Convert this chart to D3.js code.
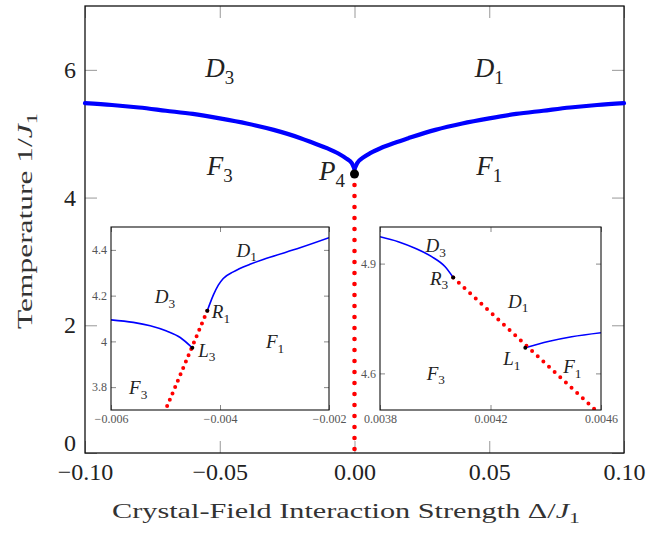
<!DOCTYPE html>
<html>
<head>
<meta charset="utf-8">
<script src="https://cdn.jsdelivr.net/npm/d3@7"></script>
<style>
  body { margin: 0; background: #fff; }
  svg { display: block; font-family: "Liberation Serif", "DejaVu Serif", serif; }
</style>
</head>
<body>
<svg id="chart" width="670" height="533"></svg>
<script>
// main phase boundary (thick blue), two branches meeting at the cusp
const leftDelta  = [-0.10, -0.09, -0.08, -0.07, -0.06, -0.05, -0.04, -0.03, -0.02, -0.015, -0.01, -0.006, -0.003, -0.001, 0];
const leftTemp   = [5.48, 5.45, 5.41, 5.36, 5.31, 5.24, 5.16, 5.06, 4.93, 4.85, 4.77, 4.69, 4.61, 4.54, 4.45];
const rightDelta = [0, 0.001, 0.003, 0.006, 0.01, 0.015, 0.02, 0.03, 0.04, 0.05, 0.06, 0.07, 0.08, 0.09, 0.10];
const rightTemp  = [4.45, 4.54, 4.62, 4.70, 4.78, 4.86, 4.93, 5.06, 5.16, 5.24, 5.31, 5.36, 5.41, 5.45, 5.48];
// first-order line (red dots) from P4 down to T = 0
const p4 = [0, 4.37];
const mainRedDelta = [0, 0];
const mainRedTemp  = [4.37, 0];

const mainTicksX = [-0.10, -0.05, 0.00, 0.05, 0.10];
const mainTicksY = [0, 2, 4, 6];

// left inset
const inLBlueADelta = [-0.006, -0.00559, -0.00528, -0.00498, -0.00473, -0.00451];
const inLBlueATemp  = [4.094, 4.083, 4.068, 4.045, 4.017, 3.972];
const inLBlueBDelta = [-0.004233, -0.004183, -0.004123, -0.004031, -0.00394, -0.003756, -0.00345, -0.003143, -0.002532, -0.002];
const inLBlueBTemp  = [4.134, 4.166, 4.202, 4.246, 4.275, 4.304, 4.337, 4.363, 4.409, 4.453];
const inLRedDelta = [-0.004233, -0.005];
const inLRedTemp  = [4.134, 3.70];
const inLPoints = [[-0.004508, 3.972], [-0.004233, 4.134]];
const inLTicksX = [-0.006, -0.004, -0.002];
const inLTicksY = [3.8, 4.0, 4.2, 4.4];

// right inset
const inRBlueADelta = [0.0038, 0.003866, 0.003927, 0.003987, 0.004035, 0.004065];
const inRBlueATemp  = [4.9735, 4.960, 4.942, 4.919, 4.892, 4.862];
const inRBlueBDelta = [0.004326, 0.004409, 0.004494, 0.0046];
const inRBlueBTemp  = [4.670, 4.687, 4.700, 4.711];
const inRRedDelta = [0.004065, 0.00458];
const inRRedTemp  = [4.862, 4.50];
const inRPoints = [[0.004065, 4.862], [0.004326, 4.670]];
const inRTicksX = [0.0038, 0.0042, 0.0046];
const inRTicksY = [4.6, 4.9];

// phase labels: [letter, subscript, delta, temperature]
const mainLabels = [["D", "3", -0.05, 6.03], ["D", "1", 0.05, 6.03], ["F", "3", -0.05, 4.50], ["F", "1", 0.05, 4.50]];
const p4Label = ["P", "4", -0.0035, 4.42];
const inLLabels = [["D", "1", -0.00351, 4.40], ["D", "3", -0.00501, 4.196], ["F", "1", -0.00299, 4.0], ["F", "3", -0.0055, 3.797]];
const inLSide   = [["R", "1", -0.00415, 4.13], ["L", "3", -0.0044, 3.962]];
const inRLabels = [["D", "3", 0.004002, 4.949], ["R", "3", 0.004014, 4.861], ["D", "1", 0.0043, 4.798],
                   ["L", "1", 0.004277, 4.641], ["F", "1", 0.004496, 4.618], ["F", "3", 0.004002, 4.601]];

const svg = d3.select("#chart");
const zip = (a, b) => a.map((v, i) => [v, b[i]]);

const x = d3.scaleLinear().domain([-0.1, 0.1]).range([85, 624]);
const y = d3.scaleLinear().domain([0, 7]).range([453, 6]);

function mathLabel(g, d, sx, sy, size, anchor) {
    const t = g.append("text")
        .attr("x", sx(d[2])).attr("y", sy(d[3]))
        .attr("dy", "0.35em")
        .attr("text-anchor", anchor)
        .attr("font-size", size)
        .attr("fill", "#222");
    t.append("tspan").attr("font-style", "italic").text(d[0]);
    t.append("tspan").attr("font-size", size * 0.7).attr("dy", size * 0.25).text(d[1]);
}

function styleTicks(g, color) {
    g.select(".domain").remove();
    g.selectAll(".tick line").attr("stroke", color).attr("stroke-width", 1);
}

// main axes, inward ticks on all sides
const gx = svg.append("g").attr("transform", "translate(0,453)")
    .call(d3.axisBottom(x).tickValues(mainTicksX).tickSize(-12).tickSizeOuter(0).tickPadding(10).tickFormat(d3.format(".2f")));
styleTicks(gx, "#999");
gx.selectAll("text").attr("font-size", 24).attr("fill", "#222").attr("font-family", "Liberation Serif");

const gy = svg.append("g").attr("transform", "translate(85,0)")
    .call(d3.axisLeft(y).tickValues(mainTicksY).tickSize(-12).tickSizeOuter(0).tickPadding(9).tickFormat(d3.format("d")));
styleTicks(gy, "#999");
gy.selectAll("text").attr("font-size", 24).attr("fill", "#222").attr("font-family", "Liberation Serif");
gy.selectAll(".tick").filter(d => d === 0).select("text").attr("dy", "-0.1em");

const gt = svg.append("g").attr("transform", "translate(0,6)")
    .call(d3.axisTop(x).tickValues(mainTicksX).tickSize(-12).tickSizeOuter(0).tickFormat(""));
styleTicks(gt, "#999");
const gr = svg.append("g").attr("transform", "translate(624,0)")
    .call(d3.axisRight(y).tickValues(mainTicksY).tickSize(-12).tickSizeOuter(0).tickFormat(""));
styleTicks(gr, "#999");

svg.append("rect").attr("x", 85).attr("y", 6).attr("width", 539).attr("height", 447)
    .attr("fill", "none").attr("stroke", "#111").attr("stroke-width", 1.3);

// axis titles, stretched to the width of the original's Computer Modern
function title(str, tf, width) {
    const t = svg.append("text").attr("text-anchor", "middle").attr("font-size", 21).attr("fill", "#333");
    t.append("tspan").text(str);
    t.append("tspan").attr("font-style", "italic").text("J");
    t.append("tspan").attr("font-size", 15).attr("dy", 5).text("1");
    const k = width / t.node().getComputedTextLength();
    t.attr("transform", `${tf} scale(${k},1)`);
}
title("Crystal-Field Interaction Strength \u0394/", "translate(346,518)", 468);
title("Temperature 1/", "translate(32,221) rotate(-90)", 216);

// main curves
const mainLine = d3.line().x(d => x(d[0])).y(d => y(d[1])).curve(d3.curveMonotoneX);
[zip(leftDelta, leftTemp), zip(rightDelta, rightTemp)].forEach(b => {
    svg.append("path").attr("d", mainLine(b)).attr("fill", "none")
        .attr("stroke", "#0000ff").attr("stroke-width", 4.2).attr("stroke-linecap", "round");
});
svg.append("path").attr("d", d3.line().x(d => x(d[0])).y(d => y(d[1]))(zip(mainRedDelta, mainRedTemp)))
    .attr("fill", "none").attr("stroke", "#ff0000").attr("stroke-width", 4.6)
    .attr("stroke-linecap", "round").attr("stroke-dasharray", "0 11");
svg.append("circle").attr("cx", x(p4[0])).attr("cy", y(p4[1])).attr("r", 4.5).attr("fill", "#000");

mainLabels.forEach(d => mathLabel(svg, d, x, y, 27, "middle"));
mathLabel(svg, p4Label, x, y, 27, "end");

// insets
function inset(box, xd, yd, xTicks, yTicks, blues, red, dash, pts, labels, side, id) {
    const ix = d3.scaleLinear().domain(xd).range([box[0], box[2]]);
    const iy = d3.scaleLinear().domain(yd).range([box[3], box[1]]);
    const w = box[2] - box[0], h = box[3] - box[1];
    const g = svg.append("g");
    g.append("rect").attr("x", box[0]).attr("y", box[1]).attr("width", w).attr("height", h).attr("fill", "#fff");
    g.append("clipPath").attr("id", id).append("rect")
        .attr("x", box[0]).attr("y", box[1]).attr("width", w).attr("height", h);

    const fmt = d3.format("~g");
    const ax = [
        [d3.axisBottom(ix).tickValues(xTicks).tickFormat(fmt), `translate(0,${box[3]})`],
        [d3.axisLeft(iy).tickValues(yTicks).tickFormat(fmt), `translate(${box[0]},0)`],
        [d3.axisTop(ix).tickValues(xTicks).tickFormat(""), `translate(0,${box[1]})`],
        [d3.axisRight(iy).tickValues(yTicks).tickFormat(""), `translate(${box[2]},0)`]
    ];
    ax.forEach(a => {
        const ga = g.append("g").attr("transform", a[1]).call(a[0].tickSize(-5).tickSizeOuter(0).tickPadding(4));
        styleTicks(ga, "#888");
        ga.selectAll("text").attr("font-size", 12).attr("fill", "#555").attr("font-family", "Liberation Serif");
    });

    const plot = g.append("g").attr("clip-path", `url(#${id})`);
    const ln = d3.line().x(d => ix(d[0])).y(d => iy(d[1])).curve(d3.curveMonotoneX);
    blues.forEach(b => plot.append("path").attr("d", ln(b)).attr("fill", "none")
        .attr("stroke", "#0000ff").attr("stroke-width", 1.6));
    plot.append("path").attr("d", d3.line().x(d => ix(d[0])).y(d => iy(d[1]))(red))
        .attr("fill", "none").attr("stroke", "#ff0000").attr("stroke-width", 4)
        .attr("stroke-linecap", "round").attr("stroke-dasharray", `0 ${dash}`);
    pts.forEach(p => plot.append("circle").attr("cx", ix(p[0])).attr("cy", iy(p[1])).attr("r", 2).attr("fill", "#000"));

    g.append("rect").attr("x", box[0]).attr("y", box[1]).attr("width", w).attr("height", h)
        .attr("fill", "none").attr("stroke", "#111").attr("stroke-width", 1.1);

    labels.forEach(d => mathLabel(g, d, ix, iy, 19, "middle"));
    side.forEach(d => mathLabel(g, d, ix, iy, 19, "start"));
}

inset([111, 227, 329, 410], [-0.006, -0.002], [3.7, 4.5], inLTicksX, inLTicksY,
    [zip(inLBlueADelta, inLBlueATemp), zip(inLBlueBDelta, inLBlueBTemp)],
    zip(inLRedDelta, inLRedTemp), 6.9, inLPoints, inLLabels, inLSide, "clipL");

inset([380, 227, 601, 410], [0.0038, 0.0046], [4.5, 5.0], inRTicksX, inRTicksY,
    [zip(inRBlueADelta, inRBlueATemp), zip(inRBlueBDelta, inRBlueBTemp)],
    zip(inRRedDelta, inRRedTemp), 7.7, inRPoints, inRLabels, [], "clipR");
</script>
</body>
</html>
